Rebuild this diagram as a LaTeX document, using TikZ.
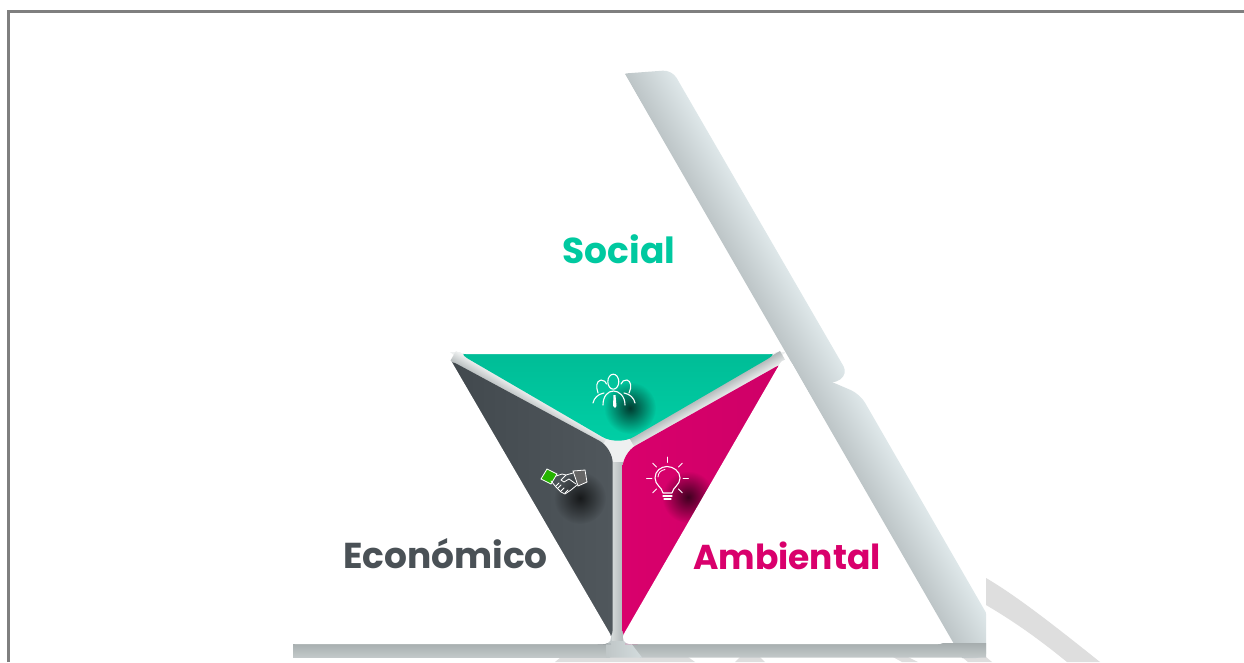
\documentclass[tikz,border=0pt]{standalone}
\usepackage{fontspec}
\setmainfont{Poppins}
\usetikzlibrary{fadings}
\definecolor{tealc}{HTML}{00C9A0}
\definecolor{tealtop}{HTML}{00BC96}
\definecolor{tealbot}{HTML}{00D0A6}
\definecolor{slate}{HTML}{4A5156}
\definecolor{slateleft}{HTML}{41484D}
\definecolor{slateright}{HTML}{50575C}
\definecolor{magc}{HTML}{D9006C}
\definecolor{framec}{HTML}{7F7F7F}
\definecolor{stripec}{HTML}{DEDEDE}
\definecolor{shdark}{HTML}{BDC5C7}
\definecolor{shbottom}{HTML}{B4BCBD}
\definecolor{shlight}{HTML}{E0E9EB}
\definecolor{gapdark}{HTML}{B2B8B9}
\definecolor{gaplight}{HTML}{EEF0F0}
\tikzfading[name=softblob,inner color=transparent!30,outer color=transparent!100]
\newcommand{\tealpath}{[rounded corners=18pt] (453,350) -- (783,350) -- (618,446) -- cycle}
\newcommand{\slatepath}{[rounded corners=15pt] (444,357) -- (612.7,448) -- (612.7,644) -- (596,644) -- cycle}
\newcommand{\magpath}{[rounded corners=15pt] (788,360) -- (622.5,453) -- (622.5,644) -- (640,644) -- cycle}
\tikzset{
	whitetri/.style={fill=white,rounded corners=13pt},
	stripe/.style={fill=stripec},
	band/.style={top color=shlight,bottom color=shdark},
	icon/.style={draw=white,line width=1.1pt,line cap=round,line join=round},
	iconthin/.style={draw=white,line width=0.8pt,line cap=round,line join=round},
	blob/.style={fill=black,path fading=softblob},
	title/.style={font=\fontsize{#1}{#1}\selectfont\bfseries,inner sep=0pt},
}
\begin{document}
\begin{tikzpicture}[x=1pt,y=-1pt]
	\useasboundingbox (0,0) rectangle (1244,662);
	\clip (0,0) rectangle (1244,662);
	\fill[white] (0,0) rectangle (1244,662);
	\draw[framec,line width=2.7pt] (8.6,662) -- (8.6,11.4) -- (1244,11.4);

	\fill[stripe] (986,578) .. controls (1015,595) and (1050,622) .. (1100,662) -- (1067,662) .. controls (1040,640) and (1015,622) .. (986,605) -- cycle;
	\fill[stripe] (555,662) -- (561,657) -- (688,657) -- (695,662) -- cycle;
	\fill[stripe] (735,662) -- (740,657) -- (760,657) -- (765,662) -- cycle;
	\fill[stripe] (893,657) -- (908,657) -- (918,662) -- (902,662) -- cycle;
	\fill[stripe] (962,657) -- (986,657) -- (992,662) -- (968,662) -- cycle;

	\begin{scope}
		\clip[rounded corners=10pt] (790,364) -- (860,394) -- (1000,637) -- (986,658) -- (780,658) -- cycle;
		\clip (600,300) rectangle (986,658);
		\shade[band,transform canvas={rotate around={-60:(786,353)}}] (680,308) rectangle (1200,353);
	\end{scope}
	\begin{scope}
		\clip[rounded corners=9pt] (618,74) -- (672,70) -- (848,374) -- (832,385) -- (786,364) -- (770,345) -- cycle;
		\shade[band,transform canvas={rotate around={-60:(618,62)}}] (500,17) rectangle (1100,62);
	\end{scope}

	\shade[top color=shbottom!92!black,bottom color=shbottom!80!white] (630,643) -- (986,643) -- (986,657.5) -- (640,657.5) -- cycle;
	\shade[top color=shbottom!92!black,bottom color=shbottom!80!white] (293,643) -- (610,643) -- (610,657.5) -- (293,657.5) -- cycle;
	\shade[left color=shbottom!85!white,right color=shlight!70!shbottom] (606,634) -- (624,634) -- (642,657.5) -- (606,657.5) -- cycle;

	\fill[gaplight] (450,352) -- (786,352) -- (640,470) -- (622.5,640) -- (612,640) -- (600,470) -- cycle;
	\shade[left color=gaplight!55!shbottom,right color=gapdark] (612,462) rectangle (623,640);
	\shade[top color=gaplight,bottom color=gapdark,transform canvas={rotate around={-30:(456,351)}}] (456,351) rectangle (630,363);
	\shade[top color=gapdark,bottom color=gaplight,transform canvas={rotate around={30:(780,351)}}] (606,351) rectangle (780,363);

	\shade[top color=tealtop,bottom color=tealbot] \tealpath;
	\shade[left color=slateleft,right color=slateright] \slatepath;
	\shade[left color=magc,right color=magc!95!black] \magpath;

	\begin{scope}
		\clip \tealpath;
		\fill[blob] (630,408) circle (26pt);
	\end{scope}
	\begin{scope}
		\clip \slatepath;
		\fill[blob] (580,498) circle (26pt);
	\end{scope}
	\begin{scope}
		\clip \magpath;
		\fill[blob] (688,497) circle (26pt);
	\end{scope}

	\fill[whitetri] (618,62) -- (783,354) -- (453,354) -- cycle;
	\fill[whitetri] (446,352) -- (616,644) -- (282,644) -- cycle;
	\fill[whitetri] (786,353) -- (951,644) -- (618,644) -- cycle;

	\node[title=36,text=tealc] (social) at (619,249) {Social};
	\node[title=36,text=slate] (economico) at (445.5,554) {Económico};
	\node[title=34.5,text=magc] (ambiental) at (787,556) {Ambiental};

	\draw[icon] (613.3,381.7) ellipse (5.5pt and 7.5pt);
	\draw[icon] (598,393) .. controls (596,387) and (596,381) .. (601,380) .. controls (604,380) and (606,382) .. (606.5,384);
	\draw[icon] (629,393) .. controls (632,387) and (631,381) .. (627,380) .. controls (624,380) and (622,381) .. (621,384);
	\draw[icon] (593,403) .. controls (594,398) and (598,394) .. (604,393);
	\draw[icon] (635,403) .. controls (634,398) and (630,394) .. (624,393);
	\draw[icon] (603,405) .. controls (603,396) and (608,391) .. (613.5,391) .. controls (619,391) and (625,396) .. (625,405);
	\fill[white] (613.5,395) -- (615.5,395) -- (616.5,406) -- (615,408) -- (613,406) -- cycle;

	\fill[green!65!black!85!yellow,draw=white,line width=0.8pt] (541,479) -- (547,469) -- (557,474) -- (551,484) -- cycle;
	\fill[black!60,draw=white,line width=0.8pt] (573,471) -- (585,470) -- (587,482) -- (578,486) -- cycle;
	\draw[iconthin] (551,481) -- (556,487) -- (561,492) -- (565,494) -- (571,490) -- (577,485);
	\draw[iconthin] (556,476) -- (562,474) -- (566,475) -- (573,473);
	\draw[iconthin] (566,475) -- (561,480) -- (564,482) -- (569,479) -- (576,484);
	\draw[iconthin] (556,486) -- (559,483);
	\draw[iconthin] (558,488) -- (561,485);
	\draw[iconthin] (561,491) -- (564,488);
	\draw[iconthin] (565,493) -- (568,490);

	\draw[icon] (663,493) .. controls (662,487) and (655,485) .. (655,478) .. controls (655,471) and (661,466.5) .. (667,466.5) .. controls (673,466.5) and (680,471) .. (680,478) .. controls (680,485) and (673,487) .. (672,493) -- cycle;
	\draw[iconthin] (658,477) .. controls (658,473) and (661,470) .. (665,469.5);
	\draw[icon] (663,496) -- (672,496);
	\draw[icon] (664,499) -- (671,499);
	\foreach \a in {0,45,135,180,225,270,315}
		\draw[iconthin] (667.5,478) ++(\a:15.5) -- ++(\a:5.5);
\end{tikzpicture}
\end{document}
